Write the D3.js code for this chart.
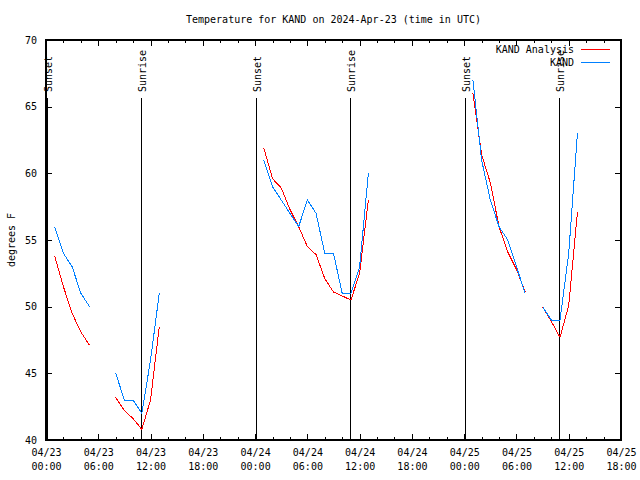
<!DOCTYPE html>
<html><head><meta charset="utf-8">
<script src="https://cdn.jsdelivr.net/npm/d3@7"></script>
<style>
body{margin:0;background:#fff}
svg{font-family:"DejaVu Sans Mono",monospace;font-size:10px}
</style>
</head><body><svg id="c" width="640" height="480"></svg>
<script>
// ---- data ----
const startTime = "2024-04-23T00:00:00Z";
const endTime = "2024-04-25T18:00:00Z";
const hourOffsets = d3.range(1, 62); // hours after 04/23 00:00 UTC
const analysisTemps = [
  53.8, 51.5, 49.5, 48.1, 47.1, null, null,
  43.2, 42.2, 41.6, 40.8, 43.0, 48.5,
  null, null, null, null, null, null, null, null, null, null, null,
  61.9, 59.6, 58.9, 57.3, 56.0, 54.5, 53.9, 52.1, 51.1, 50.8, 50.5, 52.5, 58.0,
  null, null, null, null, null, null, null, null, null, null, null,
  66.0, 61.4, 59.3, 56.0, 54.1, 52.8, 51.1, null,
  50.0, 48.9, 47.7, 50.1, 57.1
];
const observedTemps = [
  56, 54, 53, 51, 50, null, null,
  45, 43, 43, 42, 46, 51,
  null, null, null, null, null, null, null, null, null, null, null,
  61, 59, 58, 57, 56, 58, 57, 54, 54, 51, 51, 53, 60,
  null, null, null, null, null, null, null, null, null, null, null,
  67, 61, 58, 56, 55, 53, 51, null,
  50, 49, 49, 54, 63
];
const sunsetTimes = ["2024-04-23T00:06:00Z", "2024-04-24T00:07:00Z", "2024-04-25T00:08:00Z"];
const sunriseTimes = ["2024-04-23T10:54:00Z", "2024-04-24T10:53:00Z", "2024-04-25T10:54:00Z"];
const yTickValues = [40, 45, 50, 55, 60, 65, 70];
const seriesNames = ["KAND Analysis", "KAND"];
const seriesColors = ["#ff0000", "#0080ff"];
const titleText = "Temperature for KAND on 2024-Apr-23 (time in UTC)";
const yLabelText = "degrees F";

// ---- layout ----
const L = 46, R = 621, T = 40, B = 440;
const svg = d3.select("#c");
const t0 = new Date(startTime);
const toDate = h => new Date(t0.getTime() + h * 3600e3);

const x = d3.scaleUtc().domain([new Date(startTime), new Date(endTime)]).range([L, R]);
const y = d3.scaleLinear().domain([40, 70]).range([B, T]);

const majorTicks = d3.utcHour.every(6).range(new Date(startTime), new Date(new Date(endTime).getTime() + 1));
const minorTicks = d3.utcHour.every(2).range(new Date(startTime), new Date(endTime)).filter(d => d.getUTCHours() % 6 !== 0);

// title
svg.append("text").attr("x", (L + R) / 2).attr("y", 23).attr("text-anchor", "middle").text(titleText);

// y label
svg.append("text").attr("transform", "translate(11,240) rotate(-90)")
  .attr("text-anchor", "middle").attr("dy", "0.35em").text(yLabelText);

// axes (inward ticks, mirrored)
const fmtD = d3.utcFormat("%m/%d"), fmtT = d3.utcFormat("%H:%M");
const gB = svg.append("g").attr("transform", `translate(0,${B})`)
  .call(d3.axisBottom(x).tickValues(majorTicks).tickSize(-6).tickPadding(13).tickFormat(""));
gB.selectAll(".tick text").each(function(d) {
  const t = d3.select(this);
  t.append("tspan").attr("x", 0).attr("dy", "0.35em").text(fmtD(d));
  t.append("tspan").attr("x", 0).attr("dy", "1.4em").text(fmtT(d));
});
gB.selectAll(".tick text").attr("y", 12);
svg.append("g").attr("transform", `translate(0,${B})`)
  .call(d3.axisBottom(x).tickValues(minorTicks).tickSize(-3).tickFormat(""));
svg.append("g").attr("transform", `translate(0,${T})`)
  .call(d3.axisTop(x).tickValues(majorTicks).tickSize(-6).tickFormat(""));
svg.append("g").attr("transform", `translate(0,${T})`)
  .call(d3.axisTop(x).tickValues(minorTicks).tickSize(-3).tickFormat(""));
svg.append("g").attr("transform", `translate(${L},0)`)
  .call(d3.axisLeft(y).tickValues(yTickValues).tickSize(-6).tickPadding(9).tickFormat(d3.format("d")));
svg.append("g").attr("transform", `translate(${R},0)`)
  .call(d3.axisRight(y).tickValues(yTickValues).tickSize(-6).tickFormat(""));
svg.selectAll(".domain").remove();
svg.selectAll(".tick line").attr("stroke", "#000").attr("shape-rendering", "crispEdges");
svg.selectAll(".tick text").attr("font-family", "DejaVu Sans Mono").attr("font-size", 10).attr("fill", "#000");

// border
svg.append("rect").attr("x", L).attr("y", T).attr("width", R - L).attr("height", B - T)
  .attr("fill", "none").attr("stroke", "#000").attr("stroke-width", 1.5).attr("shape-rendering", "crispEdges");

// sunrise / sunset markers
const markers = [
  ...sunsetTimes.map(s => ({t: new Date(s), label: "Sunset"})),
  ...sunriseTimes.map(s => ({t: new Date(s), label: "Sunrise"}))
];
markers.forEach(m => {
  const mx = Math.round(x(m.t)) + 0.5;
  svg.append("line").attr("x1", mx).attr("x2", mx).attr("y1", 98).attr("y2", B)
    .attr("stroke", "#000").attr("stroke-width", 1).attr("shape-rendering", "crispEdges");
  svg.append("text").attr("transform", `translate(${mx + 1},92) rotate(-90)`)
    .attr("text-anchor", "start").attr("dy", "0.35em").text(m.label);
});

// series
const line = d3.line().defined(d => d.v != null).x(d => x(toDate(d.h))).y(d => y(d.v));
[analysisTemps, observedTemps].forEach((vals, i) => {
  const pts = hourOffsets.map((h, j) => ({h, v: vals[j]}));
  svg.append("path").datum(pts).attr("d", line).attr("fill", "none")
    .attr("stroke", seriesColors[i]).attr("stroke-width", 1).attr("shape-rendering", "crispEdges");
});

// legend
seriesNames.forEach((name, i) => {
  const ly = 49 + i * 13;
  svg.append("text").attr("x", 574).attr("y", ly).attr("dy", "0.35em").attr("text-anchor", "end").text(name);
  svg.append("line").attr("x1", 581).attr("x2", 610).attr("y1", ly + 0.5).attr("y2", ly + 0.5)
    .attr("stroke", seriesColors[i]).attr("stroke-width", 1).attr("shape-rendering", "crispEdges");
});
</script>
</body></html>
